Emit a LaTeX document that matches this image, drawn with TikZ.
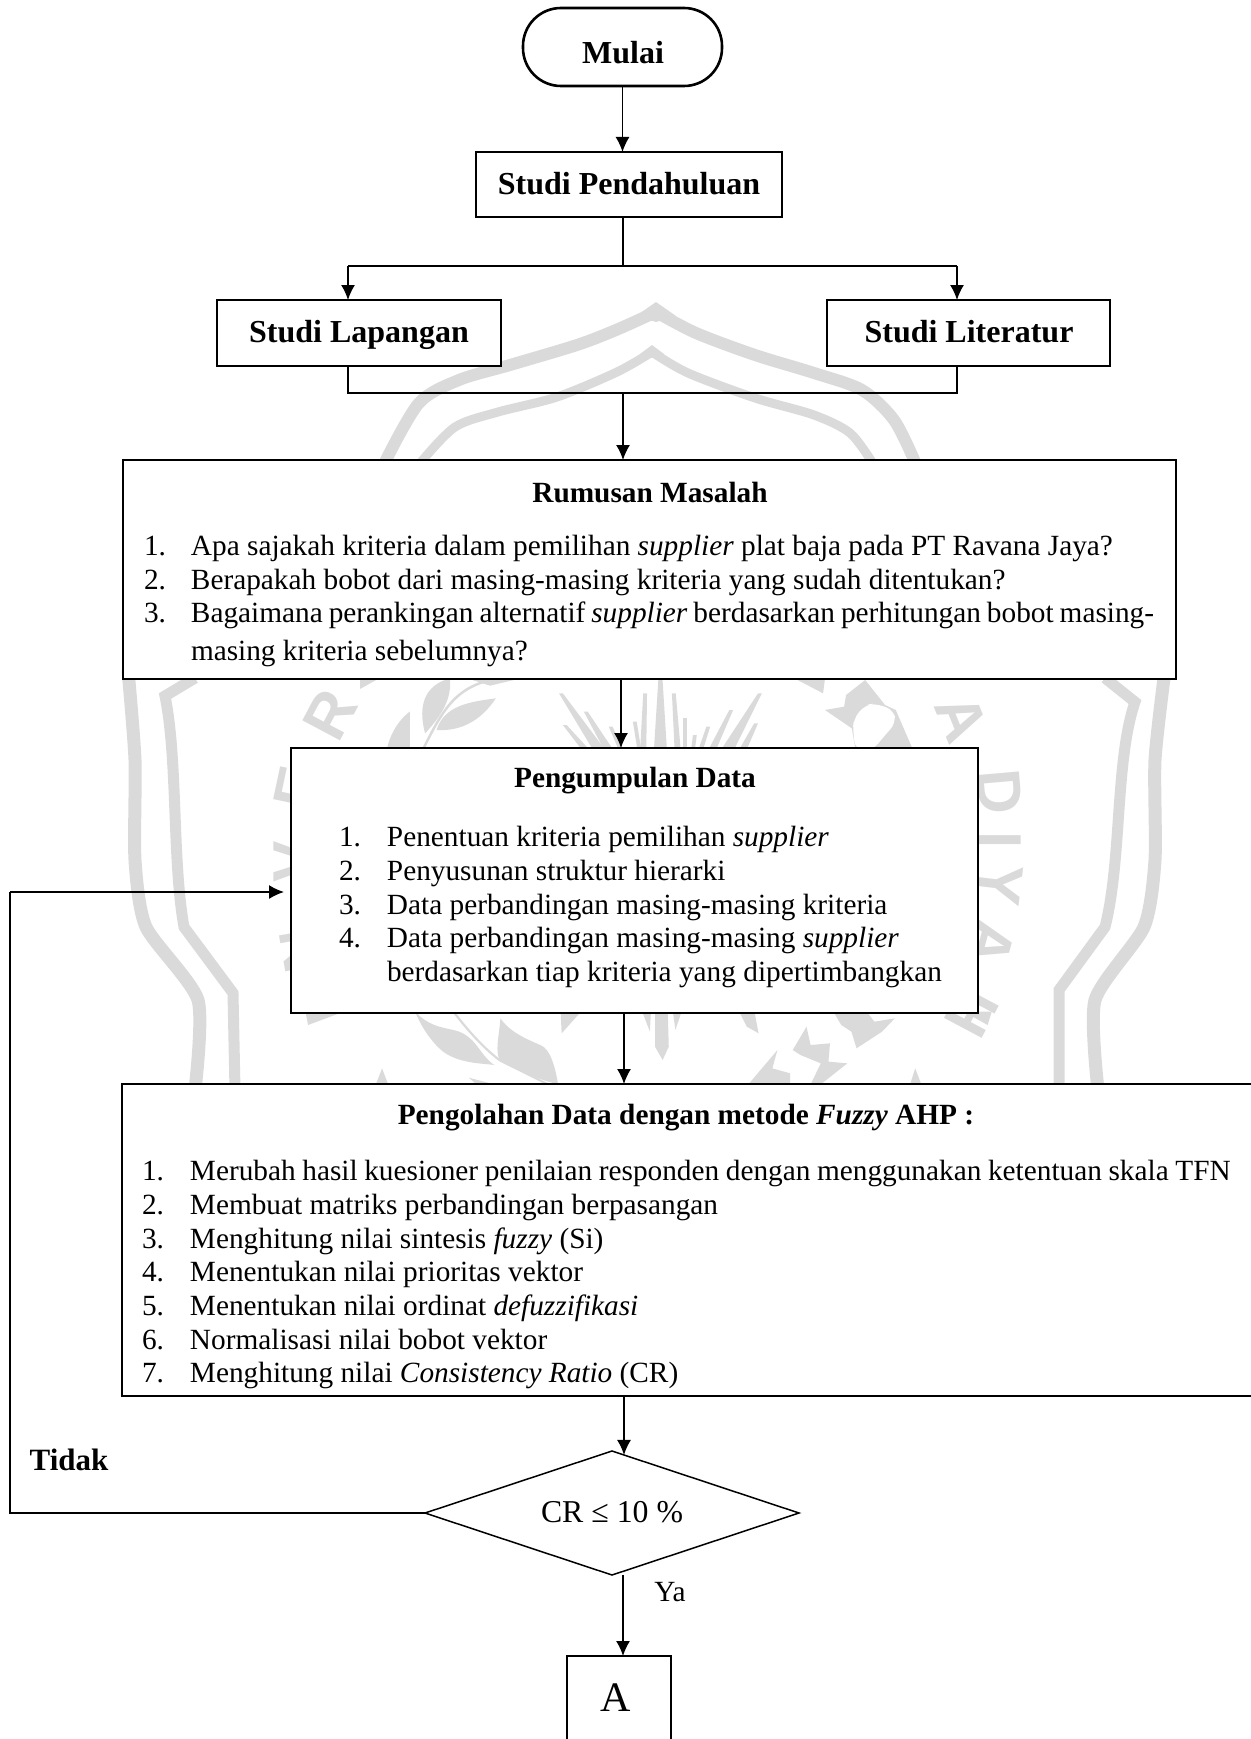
\documentclass[tikz,border=0pt]{standalone}
\usepackage{fontspec}
\setmainfont{Liberation Serif}
\newfontfamily\wmfont{Liberation Sans}
\usetikzlibrary{arrows.meta,shapes.geometric,calc}
\definecolor{wm}{HTML}{DADADA}
\newcommand{\txtf}{\fontsize{29.3}{33.7}\selectfont}
\newcommand{\bigf}{\fontsize{32}{37}\selectfont\bfseries}
\tikzset{
 box/.style={draw=black,fill=white,line width=2.6pt,inner sep=0pt,outer sep=0pt},
 conn/.style={draw=black,line width=1.5pt},
 arr/.style={conn,-{Latex[length=15pt,width=14pt]}},
 lbl/.style={inner sep=0pt,outer sep=0pt,font=\txtf},
 hd/.style={inner sep=0pt,outer sep=0pt,font=\txtf\bfseries},
 bg/.style={inner sep=0pt,outer sep=0pt,anchor=base,font=\bigf},
 lst/.style={inner sep=0pt,outer sep=0pt,anchor=north west,font=\txtf},
 band/.style={draw=wm,line width=13pt,line join=miter},
 wml/.style={inner sep=0pt,text=wm,font=\wmfont\bfseries\fontsize{62}{62}\selectfont}
}
\begin{document}
\begin{tikzpicture}[x=1pt,y=-1pt]
\useasboundingbox (0,0) rectangle (1250,1739);
% watermark
\draw[band,line width=12pt] plot[smooth,tension=.5] coordinates {(656,312)(616,330)(577,345)(510,365)(459,380)(419,403)(385,462)};
\draw[band,line width=12pt] plot[smooth,tension=.5] coordinates {(656,312)(696,333)(755,355)(814,373)(862,390)(894,420)(915,462)};
\fill[wm] (656,302) -- (636,316) -- (656,322) -- (676,316) -- cycle;
\draw[band,line width=9pt] plot[smooth,tension=.5] coordinates {(652,352)(617,372)(557,397)(498,412)(455,427)(421,462)};
\draw[band,line width=9pt] plot[smooth,tension=.5] coordinates {(652,352)(688,373)(755,398)(814,415)(850,433)(872,462)};
\fill[wm] (652,345) -- (640,354) -- (652,358) -- (664,354) -- cycle;
\draw[band] plot[smooth,tension=.4] coordinates {(128,670)(135,760)(135,860)(146,927)(198,1000)(195,1090)};
\draw[band] plot[smooth,tension=.4] coordinates {(1165,670)(1155,760)(1155,860)(1144,927)(1095,1000)(1098,1090)};
\draw[band,line width=11pt] (195,678) -- (165,696) .. controls (178,760) and (172,860) .. (184,927) -- (233,993) -- (235,1090);
\draw[band,line width=11pt] (1105,678) -- (1135,702) .. controls (1115,760) and (1122,860) .. (1105,927) -- (1059,990) -- (1059,1090);
\node[wml,rotate=62] (w1) at (330,715) {R};
\node[wml,rotate=78] (w2) at (298,788) {E};
\node[wml,rotate=90] (w3) at (295,862) {V};
\node[wml,rotate=100] (w4) at (304,950) {N};
\node[wml,rotate=-68] (w5) at (962,718) {A};
\node[wml,rotate=-85] (w6) at (1000,792) {D};
\node[wml,rotate=-90] (w7) at (1000,840) {I};
\node[wml,rotate=-97] (w8) at (1000,885) {Y};
\node[wml,rotate=-105] (w9) at (990,943) {A};
\node[wml,rotate=-118] (w10) at (972,1012) {H};
% emblem above the data box, in crop coordinates
\begin{scope}[shift={(360,675)},x=0.3827pt,y=-0.3333pt]
\fill[wm] (235,10) .. controls (170,30) and (150,90) .. (170,175) .. controls (215,120) and (240,70) .. (235,10) -- cycle;
\fill[wm] (355,70) .. controls (290,80) and (220,90) .. (200,165) .. controls (270,170) and (320,130) .. (355,70) -- cycle;
\draw[wm,line width=2.5pt] (165,222) .. controls (210,120) and (240,50) .. (325,20);
\fill[wm] (280,10) -- (420,10) -- (340,32) -- cycle;
\fill[wm] (0,10) -- (50,10) -- (0,42) -- cycle;
\fill[wm] (130,110) .. controls (95,140) and (75,190) .. (70,225) -- (130,225) -- cycle;
\foreach \tx/\ty/\bx/\w in {525/55/625/16,590/110/650/12,535/150/590/10,655/155/682/6,745/55/740/8,718/140/730/5,785/5/785/17,820/55/830/8,850/130/850/5,875/180/870/5,910/155/890/6,970/105/920/10,1045/55/960/17,1035/145/1000/10}{
  \fill[wm] (\tx-5,\ty) -- (\tx+5,\ty) -- (\bx+\w,225) -- (\bx-\w,225) -- cycle;
}
\fill[wm] (1135,10) -- (1215,10) -- (1210,55) -- cycle;
\fill[wm] (1215,105) -- (1265,95) -- (1270,60) -- (1320,15) -- (1372,90) -- (1400,105) -- (1445,225) -- (1295,225) -- (1285,160) -- cycle;
\fill[white,rounded corners=8pt] (1290,130) -- (1320,90) -- (1345,85) -- (1395,105) -- (1400,145) -- (1372,180) -- (1340,225) -- (1295,225) -- (1288,165) -- cycle;
\end{scope}
% emblem below the data box, in crop coordinates
\begin{scope}[shift={(280,1005)},x=0.5102pt,y=-0.3333pt]
\fill[wm] (50,20) -- (125,20) -- (55,60) -- cycle;
\fill[wm] (550,20) -- (590,20) -- (552,85) -- cycle;
\fill[wm] (710,20) -- (727,20) -- (725,80) -- cycle;
\fill[wm] (735,20) -- (760,20) -- (762,125) -- (750,165) -- (735,125) -- cycle;
\fill[wm] (770,20) -- (787,20) -- (775,75) -- cycle;
\fill[wm] (900,20) -- (930,20) -- (938,85) -- (915,65) -- cycle;
\fill[wm] (1340,20) -- (1395,20) -- (1387,60) -- cycle;
\fill[wm] (265,20) .. controls (280,80) and (310,135) .. (330,150) .. controls (360,175) and (395,175) .. (420,180) .. controls (390,150) and (385,90) .. (340,75) .. controls (310,65) and (290,60) .. (265,20) -- cycle;
\fill[wm] (432,40) .. controls (430,90) and (420,140) .. (432,170) .. controls (470,200) and (510,225) .. (545,238) .. controls (540,190) and (530,130) .. (510,120) .. controls (480,100) and (450,80) .. (432,40) -- cycle;
\draw[wm,line width=2.2pt] (340,20) .. controls (370,80) and (400,130) .. (430,165) -- (525,238);
\fill[wm] (370,218) -- (420,238) -- (385,238) -- cycle;
\fill[wm] (200,190) -- (188,238) -- (212,238) -- cycle;
\fill[wm] (975,135) -- (965,190) -- (1000,205) -- (1000,238) -- (918,238) -- cycle;
\fill[wm] (1040,238) -- (1060,175) -- (1020,150) -- (1005,135) -- (1032,65) -- (1040,120) -- (1078,115) -- (1075,170) -- (1112,175) -- (1060,238) -- cycle;
\fill[wm] (1130,130) -- (1120,80) -- (1100,60) -- (1085,20) -- (1150,20) -- (1165,50) -- (1205,40) -- (1180,80) -- cycle;
\fill[wm] (1245,190) -- (1235,238) -- (1257,238) -- cycle;
\end{scope}
% boxes
\node[box,rounded corners=38pt,minimum width=199pt,minimum height=78pt] (mulai) at (622.5,47) {};
\node[bg] (tmulai) at (623,64) {Mulai};
\node[box,minimum width=306pt,minimum height=65pt] (pend) at (629,184.5) {};
\node[bg] (tpend) at (629,194) {Studi Pendahuluan};
\node[box,minimum width=284pt,minimum height=66pt] (lap) at (359,333) {};
\node[bg] (tlap) at (359,342) {Studi Lapangan};
\node[box,minimum width=283pt,minimum height=66pt] (lit) at (968.5,333) {};
\node[bg] (tlit) at (969,342) {Studi Literatur};
\node[box,minimum width=1053pt,minimum height=219pt] (rum) at (649.5,569.5) {};
\node[hd] (trum) at (650,493) {Rumusan Masalah};
\node[lst] (lrum) at (144,532) {\begin{tabular}{@{}p{47pt}@{}l@{}}
1.&Apa sajakah kriteria dalam pemilihan \textit{supplier} plat baja pada PT Ravana Jaya?\\
2.&Berapakah bobot dari masing-masing kriteria yang sudah ditentukan?\\
3.&{\spaceskip=6pt Bagaimana perankingan alternatif \textit{supplier} berdasarkan perhitungan bobot masing-}\\[4pt]
&masing kriteria sebelumnya?
\end{tabular}};
\node[box,minimum width=687pt,minimum height=265pt] (peng) at (634.5,880.5) {};
\node[hd] (tpeng) at (635,781) {Pengumpulan Data};
\node[lst] (lpeng) at (339,823) {\begin{tabular}{@{}p{48pt}@{}l@{}}
1.&Penentuan kriteria pemilihan \textit{supplier}\\
2.&Penyusunan struktur hierarki\\
3.&Data perbandingan masing-masing kriteria\\
4.&Data perbandingan masing-masing \textit{supplier}\\
&berdasarkan tiap kriteria yang dipertimbangkan
\end{tabular}};
\node[box,minimum width=1140pt,minimum height=312pt] (olah) at (692,1240) {};
\node[hd] (tolah) at (686,1118) {Pengolahan Data dengan metode \textit{Fuzzy} AHP :};
\node[lst] (lolah) at (142,1157) {\begin{tabular}{@{}p{48pt}@{}l@{}}
1.&{\spaceskip=6.6pt Merubah hasil kuesioner penilaian responden dengan menggunakan ketentuan skala TFN}\\
2.&Membuat matriks perbandingan berpasangan\\
3.&Menghitung nilai sintesis \textit{fuzzy} (Si)\\
4.&Menentukan nilai prioritas vektor\\
5.&Menentukan nilai ordinat \textit{defuzzifikasi}\\
6.&Normalisasi nilai bobot vektor\\
7.&Menghitung nilai \textit{Consistency Ratio} (CR)
\end{tabular}};
\node[draw=black,line width=1.5pt,fill=white,diamond,aspect=3,inner sep=0pt,outer sep=0pt,minimum width=374pt,minimum height=124pt] (dm) at (612,1513) {};
\node[inner sep=0pt,outer sep=0pt,font=\fontsize{31.8}{36}\selectfont] (tdm) at (612,1512) {CR ≤ 10 \%};
\node[box,line width=2pt,minimum width=104pt,minimum height=110pt] (a) at (619,1711) {};
\node[inner sep=0pt,outer sep=0pt,font=\fontsize{42}{48}\selectfont] (ta) at (616,1698) {A};
\node[inner sep=0pt,outer sep=0pt,font=\fontsize{31}{36}\selectfont\bfseries] (ttidak) at (69,1460) {Tidak};
\node[lbl] (tya) at (670,1592) {Ya};
% connector points
\coordinate (x1) at (623,266);
\coordinate (ja) at (348,266);
\coordinate (jb) at (957,266);
\coordinate (jc) at (348,393);
\coordinate (jd) at (957,393);
\coordinate (je) at (623,393);
\coordinate (x2) at (621,0);
\coordinate (x3) at (624,0);
\coordinate (x4) at (623,0);
\coordinate (fb1) at (10,1513);
\coordinate (fb2) at (10,892);
\coordinate (fb3) at (284,892);
\coordinate (dmin) at ($(dm.north)!0.064!(dm.east)$);
% connectors
\draw[arr] (mulai.south) -- (mulai.south |- pend.north);
\draw[conn] (pend.south -| x1) -- (x1);
\draw[conn] (ja) -- (jb);
\draw[arr] (ja) -- (lap.north -| ja);
\draw[arr] (jb) -- (lit.north -| jb);
\draw[conn] (lap.south -| jc) -- (jc) -- (jd) -- (lit.south -| jd);
\draw[arr] (je) -- (rum.north -| je);
\draw[arr] (rum.south -| x2) -- (peng.north -| x2);
\draw[arr] (peng.south -| x3) -- (olah.north -| x3);
\draw[arr] (olah.south -| x3) -- (dmin -| x3);
\draw[conn] (dm.west) -- (fb1) -- (fb2);
\draw[arr] (fb2) -- (fb3);
\draw[arr] (dm.south -| x4) -- (a.north -| x4);
\end{tikzpicture}
\end{document}
